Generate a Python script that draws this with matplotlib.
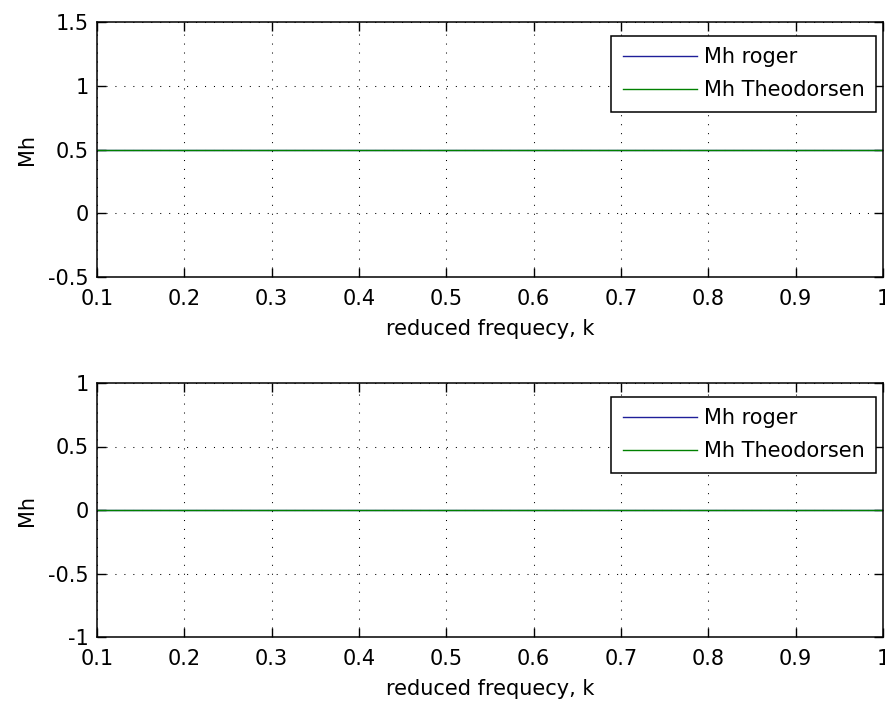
import matplotlib
matplotlib.use("Agg")
import matplotlib.pyplot as plt

plt.rcParams['font.family'] = ['DejaVu Sans']

k = [0.1, 0.2, 0.3, 0.4, 0.5, 0.6, 0.7, 0.8, 0.9, 1.0]
mh_roger_top = [0.5, 0.5, 0.5, 0.5, 0.5, 0.5, 0.5, 0.5, 0.5, 0.5]
mh_theo_top = [0.5, 0.5, 0.5, 0.5, 0.5, 0.5, 0.5, 0.5, 0.5, 0.5]
mh_roger_bot = [0.0, 0.0, 0.0, 0.0, 0.0, 0.0, 0.0, 0.0, 0.0, 0.0]
mh_theo_bot = [0.0, 0.0, 0.0, 0.0, 0.0, 0.0, 0.0, 0.0, 0.0, 0.0]

xticks = [0.1, 0.2, 0.3, 0.4, 0.5, 0.6, 0.7, 0.8, 0.9, 1.0]
xticklabels = ['0.1', '0.2', '0.3', '0.4', '0.5', '0.6', '0.7', '0.8', '0.9', '1']
yticks_top = [-0.5, 0, 0.5, 1, 1.5]
yticklabels_top = ['-0.5', '0', '0.5', '1', '1.5']
yticks_bot = [-1, -0.5, 0, 0.5, 1]
yticklabels_bot = ['-1', '-0.5', '0', '0.5', '1']

W, H = 885, 706
fig = plt.figure(figsize=(W / 100, H / 100), dpi=100)
fig.patch.set_facecolor('white')

AX_L, AX_W = 97, 786
ax1 = fig.add_axes([AX_L / W, 1 - 277 / H, AX_W / W, 255 / H])
ax2 = fig.add_axes([AX_L / W, 1 - 637 / H, AX_W / W, 254 / H])

fs = 15

def style(ax, yt, ytl, ylim, yr, yt_, hpx):
    ax.plot(k, yr, color=(0.12, 0.12, 0.6), lw=1.0, label='Mh roger')
    ax.plot(k, yt_, color=(0, 0.5, 0), lw=1.0, label='Mh Theodorsen')
    ax.set_xlim(0.1, 1.0)
    ax.set_ylim(*ylim)
    ax.set_xticks(xticks)
    ax.set_xticklabels(xticklabels, fontsize=fs)
    ax.set_yticks(yt)
    ax.set_yticklabels(ytl, fontsize=fs)
    ax.tick_params(axis='x', direction='in', top=True, length=6.5, width=1.0, pad=8.5)
    ax.tick_params(axis='y', direction='in', right=True, length=6.5, width=1.0, pad=6)
    ax.grid(True, linestyle=(0, (1, 7.6)), color='black', linewidth=0.75)
    for s in ax.spines.values():
        s.set_linewidth(1.1)
    ax.set_xlabel('reduced frequecy, k', fontsize=fs)
    ax.xaxis.set_label_coords(0.5, -42 / hpx)
    ax.set_ylabel('Mh', fontsize=fs)
    ax.yaxis.set_label_coords(-(97 - 37) / AX_W, 0.5)
    leg = ax.legend(loc='upper right', bbox_to_anchor=(1 - 7 / AX_W, 1 - 14 / hpx),
                    fontsize=fs, frameon=True, fancybox=False,
                    edgecolor='black', framealpha=1, borderaxespad=0,
                    handlelength=3.56, handletextpad=0.34, labelspacing=0.61,
                    borderpad=0.55)
    leg.get_frame().set_linewidth(1.1)

style(ax1, yticks_top, yticklabels_top, (-0.5, 1.5), mh_roger_top, mh_theo_top, 255)
style(ax2, yticks_bot, yticklabels_bot, (-1, 1), mh_roger_bot, mh_theo_bot, 254)

fig.savefig('out.png', dpi=100)
